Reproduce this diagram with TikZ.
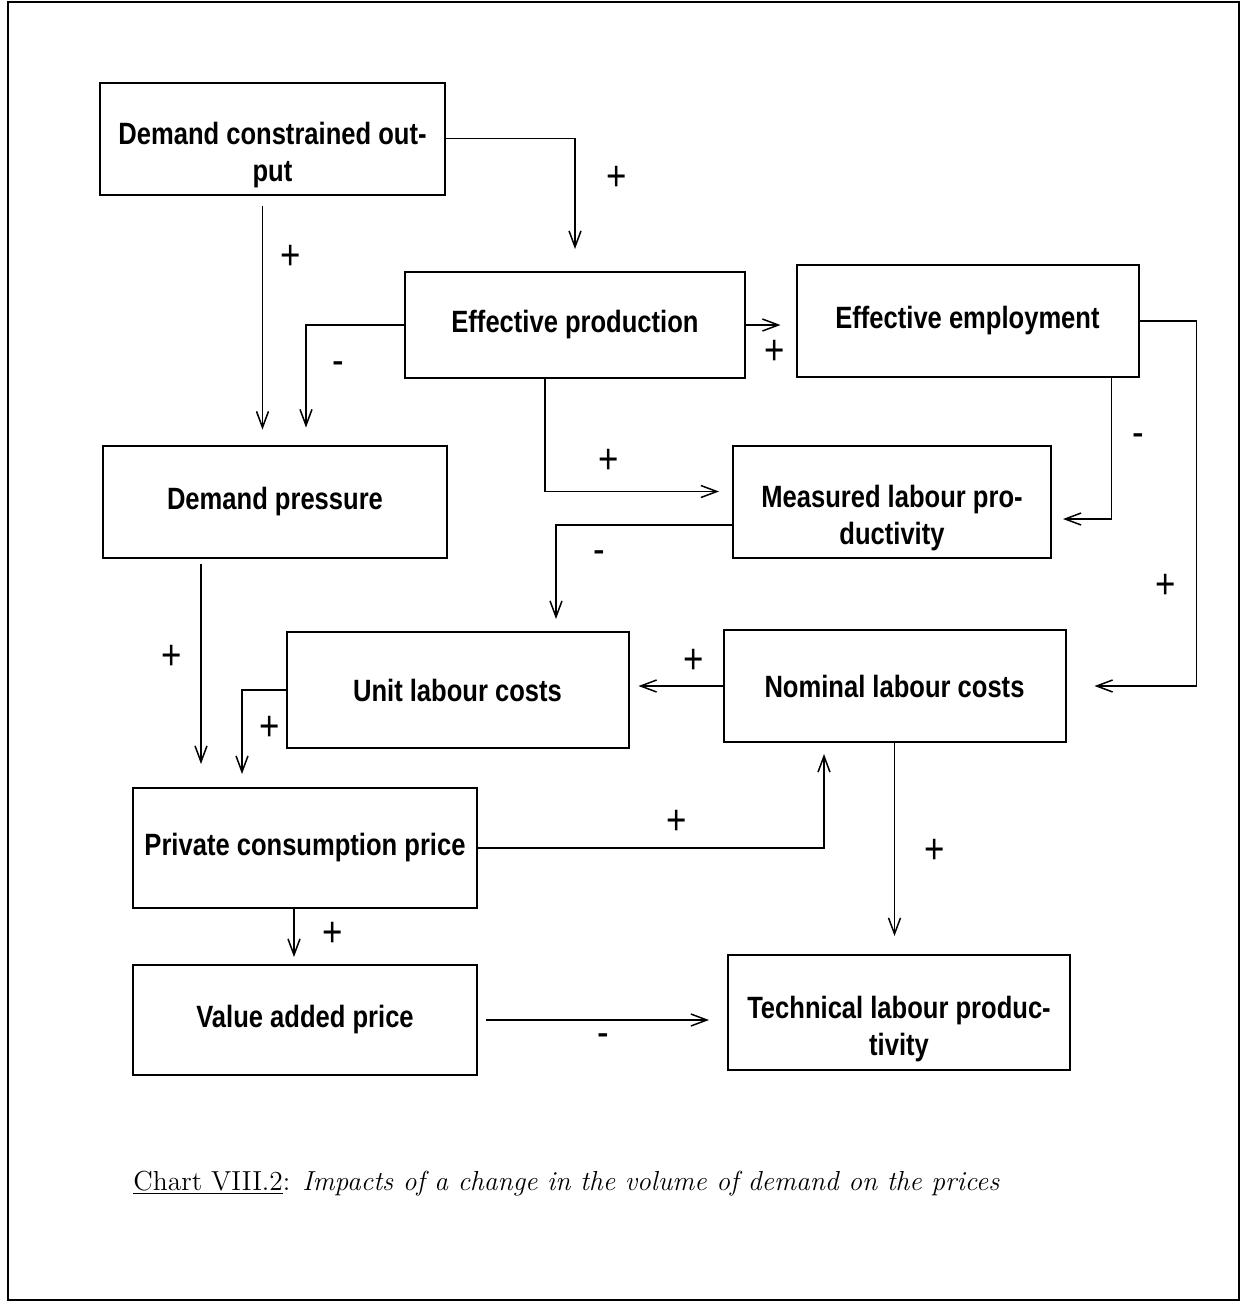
\documentclass[tikz,border=0pt]{standalone}
\usepackage{fontspec}
\usetikzlibrary{arrows.meta}
\newfontfamily\boxfont{Liberation Sans}[FakeStretch=0.83]
\newcommand\lowstrut{\rule{0pt}{28pt}}
\begin{document}
\begin{tikzpicture}[x=0.5pt,y=-0.5pt,
  box/.style={draw, line width=1pt, inner sep=0pt, align=center,
    minimum width=171pt, minimum height=56pt,
    font=\boxfont\bfseries\fontsize{15.4}{18.5}\selectfont},
  arr/.style={draw, line width=0.75pt, -{Straight Barb[length=8pt,width=6pt]}},
  sign/.style={font=\boxfont\fontsize{21}{24}\selectfont, inner sep=0pt}]
\useasboundingbox (0,0) rectangle (1242,1308);
\draw[line width=1pt] (8,2) rectangle (1239,1300);
% boxes
\node[box, minimum width=172.5pt] (dco) at (272.5,138.5) {\lowstrut Demand constrained out-\\put};
\node[box, minimum width=170pt, minimum height=53pt] (ep) at (575,325) {Effective production};
\node[box] (ee) at (967.5,321) {Effective employment};
\node[box, minimum width=172pt] (dp) at (275,501.5) {Demand pressure};
\node[box, minimum width=159pt] (mlp) at (892,501.5) {\lowstrut Measured labour pro-\\ductivity};
\node[box, minimum height=58pt] (ulc) at (457.5,690) {Unit labour costs};
\node[box] (nlc) at (894.5,686) {Nominal labour costs};
\node[box, minimum width=172pt, minimum height=60pt] (pcp) at (305,848) {Private consumption price};
\node[box, minimum width=172pt, minimum height=55pt] (vap) at (305,1020) {Value added price};
\node[box, minimum height=57.5pt] (tlp) at (899,1012.5) {\lowstrut Technical labour produc-\\tivity};
% connectors
\path[arr, shorten >=11pt] (dco.east) -| (ep.north);
\path[arr, shorten <=5pt, shorten >=7.5pt] ([xshift=-5pt]dco.south) -- ([xshift=-5pt]dco.south |- dp.north);
\path[arr, shorten >=8.5pt] (ep.west) -| ([xshift=15.5pt]dp.north);
\path[arr, shorten >=6.5pt] ([xshift=-15pt]ep.south) |- ([yshift=5pt]mlp.west);
\path[arr, shorten >=7.5pt] (ep.east) -- (ep.east -| ee.west);
\path[arr, shorten >=5.5pt] ([xshift=-14pt]ee.south east) |- ([yshift=-8.75pt]mlp.east);
\path[arr, shorten >=14pt] (ee.east) -- ++(57,0) |- (nlc.east);
\path[arr, shorten >=6pt] ([yshift=-11.75pt]mlp.west) -| ([xshift=49.25pt]ulc.north);
\path[arr, shorten >=4.5pt] (nlc.west) -- (nlc.west -| ulc.east);
\path[arr, shorten >=6.5pt] (ulc.west) -| ([xshift=-31.5pt]pcp.north);
\path[arr, shorten <=2.5pt, shorten >=11.5pt] ([xshift=-37pt]dp.south) -- ([xshift=-37pt]dp.south |- pcp.north);
\path[arr, shorten >=5.5pt] (pcp.east) -| ([xshift=-35.25pt]nlc.south);
\path[arr, shorten >=9pt] (nlc.south) -- (nlc.south |- tlp.north);
\path[arr, shorten >=3.5pt] ([xshift=-5.5pt]pcp.south) -- ([xshift=-5.5pt]pcp.south |- vap.north);
\path[arr, shorten <=4pt, shorten >=9pt] (vap.east) -- (vap.east -| tlp.west);
% signs
\node[sign] (s1) at (617,178) {+};
\node[sign] (s2) at (291,257) {+};
\node[sign] (s3) at (338,368) {-};
\node[sign] (s4) at (609,461) {+};
\node[sign] (s5) at (775,352) {+};
\node[sign] (s6) at (1138,440) {-};
\node[sign] (s7) at (1166,586) {+};
\node[sign] (s8) at (599,557) {-};
\node[sign] (s9) at (694,661) {+};
\node[sign] (s10) at (270,728) {+};
\node[sign] (s11) at (172,657) {+};
\node[sign] (s12) at (677,822) {+};
\node[sign] (s13) at (935,851) {+};
\node[sign] (s14) at (333,934) {+};
\node[sign] (s15) at (603,1040) {-};
% caption
\node[anchor=base west, inner sep=0pt, font=\fontsize{13.75}{17}\selectfont] (cap) at (133,1190)
  {\underline{Chart VIII.2}: \textit{Impacts of a change in the volume of demand on the prices}};
\end{tikzpicture}
\end{document}
